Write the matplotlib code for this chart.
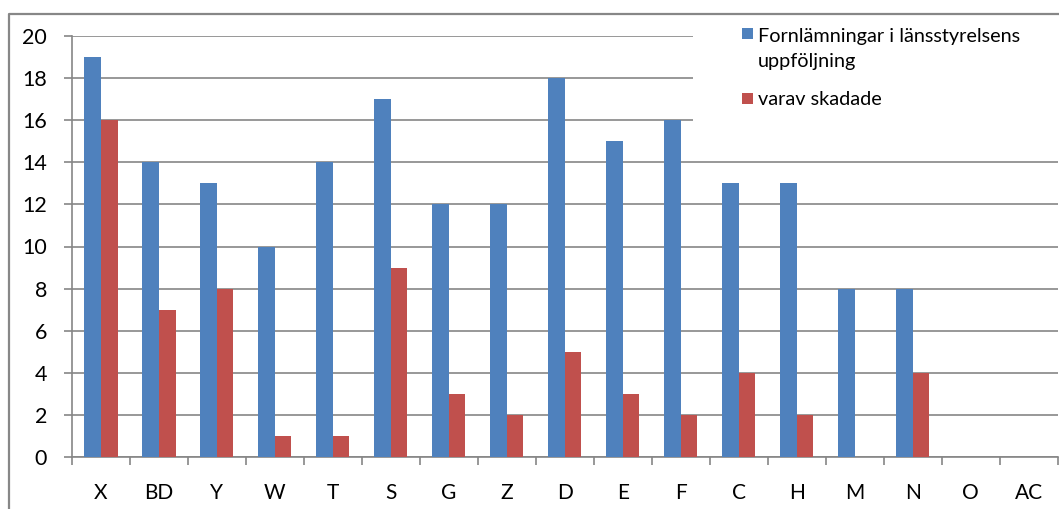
import matplotlib
matplotlib.use("Agg")
import matplotlib.pyplot as plt
from matplotlib.patches import Rectangle
from matplotlib.lines import Line2D
import numpy as np

categories = ["X", "BD", "Y", "W", "T", "S", "G", "Z", "D", "E", "F", "C", "H", "M", "N", "O", "AC"]
followed_up = [19, 14, 13, 10, 14, 17, 12, 12, 18, 15, 16, 13, 13, 8, 8, 0, 0]
damaged = [16, 7, 8, 1, 1, 9, 3, 2, 5, 3, 2, 4, 2, 0, 4, 0, 0]
series_labels = ["Fornlämningar i länsstyrelsens\nuppföljning", "varav skadade"]
yticks = list(range(0, 21, 2))

BLUE = "#4F81BD"
RED = "#C0504D"
GRID = "#868686"
W, H = 1059, 509

plt.rcParams["font.family"] = ["Lato", "DejaVu Sans"]

fig = plt.figure(figsize=(W / 100, H / 100), dpi=100)


def fx(x):
    return x / W


def fy(y):
    return 1 - y / H


ax = fig.add_axes([fx(72), fy(457), fx(1057.5) - fx(72), fy(36) - fy(457)])

x = np.arange(len(categories))
bw = 1 / 3.5
ax.bar(x - bw / 2, followed_up, width=bw, color=BLUE, zorder=3, linewidth=0)
ax.bar(x + bw / 2, damaged, width=bw, color=RED, zorder=3, linewidth=0)

ax.set_xlim(-0.5, len(categories) - 0.5)
ax.set_ylim(0, 20)
ax.set_yticks(yticks)
ax.set_yticklabels([str(v) for v in yticks], fontsize=15.5)
ax.yaxis.grid(True, color=GRID, linewidth=1.2, zorder=0)
ax.set_axisbelow(True)

ax.set_xticks(x)
ax.set_xticklabels(categories, fontsize=15)
ax.set_xticks(np.arange(-0.5, len(categories)), minor=True)
ax.tick_params(axis="x", which="major", length=0, pad=19)
ax.tick_params(axis="x", which="minor", length=6, width=1.2, color=GRID, direction="out")
ax.tick_params(axis="y", length=5.5, width=1.2, color=GRID, pad=12.5)

for side in ["top", "right"]:
    ax.spines[side].set_visible(False)
for side in ["left", "bottom"]:
    ax.spines[side].set_color(GRID)
    ax.spines[side].set_linewidth(1.2)

# outer chart frame: left and top edges within the canvas
fig.add_artist(Line2D([fx(9), fx(9), fx(1070)], [fy(520), fy(13.5), fy(13.5)],
                      transform=fig.transFigure, color="#878787", linewidth=1.6))

# legend block with white backdrop over gridlines
fig.patches.append(Rectangle((fx(693), fy(122)), fx(1065) - fx(693), fy(22) - fy(122),
                             transform=fig.transFigure, facecolor="white",
                             edgecolor="none", zorder=5))
first, second = series_labels[0].split("\n")
legend_rows = [(BLUE, 28, [(first, 42), (second, 67)]),
               (RED, 93, [(series_labels[1], 105)])]
for color, sq_top, lines in legend_rows:
    fig.patches.append(Rectangle((fx(742), fy(sq_top + 11)), fx(11), 11 / H,
                                 transform=fig.transFigure, facecolor=color,
                                 edgecolor="none", zorder=6))
    for txt, base in lines:
        fig.text(fx(758), fy(base), txt, fontsize=14.3, va="baseline", ha="left", zorder=7)

fig.savefig("out.png", dpi=100)
